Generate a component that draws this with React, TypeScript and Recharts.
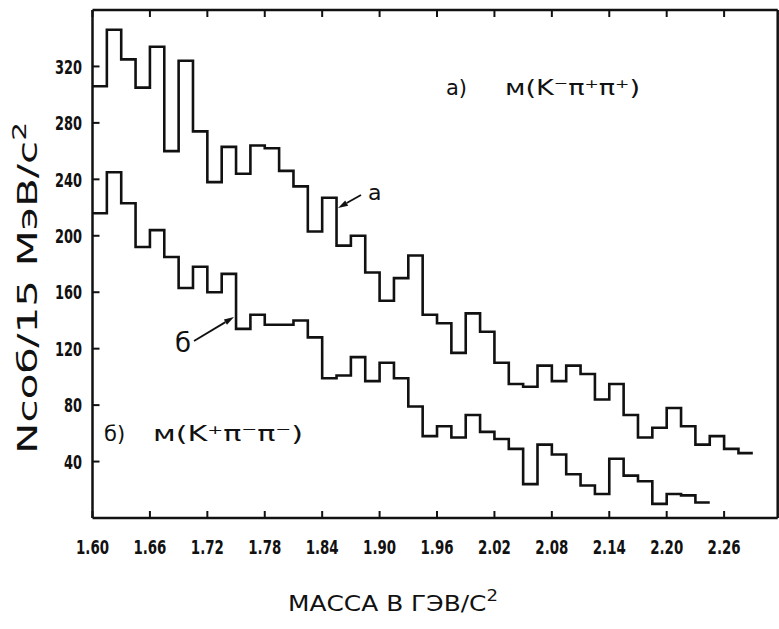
import React from "react";
import { LineChart, Line, XAxis, YAxis } from "recharts";

const BIN_START = 1.6;
const BIN_WIDTH = 0.015;

// (а) M(K- п+ п+), events per 15 MeV bin starting at 1.600
const countsA = [
  306, 346, 325, 305, 334, 260, 324, 274, 238, 263, 244, 264, 262, 246, 235, 203,
  227, 193, 200, 174, 154, 170, 186, 144, 138, 117, 145, 132, 110, 95, 93, 108,
  97, 108, 102, 84, 95, 73, 57, 64, 78, 65, 52, 58, 49, 46,
];
// (б) M(K+ п- п-)
const countsB = [
  216, 245, 223, 192, 204, 185, 163, 178, 160, 173, 134, 144, 137, 137, 140, 128,
  99, 101, 114, 97, 110, 99, 79, 58, 65, 57, 73, 61, 56, 49, 24, 52,
  45, 31, 23, 17, 42, 30, 26, 10, 17, 16, 11,
];

const massTicks = [1.6, 1.66, 1.72, 1.78, 1.84, 1.9, 1.96, 2.02, 2.08, 2.14, 2.2, 2.26];
const countTicks = [40, 80, 120, 160, 200, 240, 280, 320];

// one row per bin edge; the closing edge repeats the last bin so stepAfter draws it
const rows = Array.from({ length: countsA.length + 1 }, (_, i) => ({
  m: Math.round((BIN_START + i * BIN_WIDTH) * 1000) / 1000,
  a: countsA[Math.min(i, countsA.length - 1)],
  b: i <= countsB.length ? countsB[Math.min(i, countsB.length - 1)] : null,
}));

const INK = "#111";
const LABEL_FONT = "DejaVu Sans";
const axisLine = { stroke: INK, strokeWidth: 2.5 };
const tickLine = { stroke: INK, strokeWidth: 2 };

// narrow bold lettering like the stencil numbers on the original
function MassTick(props: any) {
  const { x, y, payload } = props;
  return (
    <text
      x={x}
      y={y}
      dy="0.68em"
      textAnchor="middle"
      fill={INK}
      fontSize={20}
      fontWeight="bold"
      fontFamily="DejaVu Sans Condensed"
      textLength={33}
      lengthAdjust="spacingAndGlyphs"
    >
      {Number(payload.value).toFixed(2)}
    </text>
  );
}

function CountTick(props: any) {
  const { x, y, payload } = props;
  const label = String(payload.value);
  return (
    <text
      x={x}
      y={y}
      dy="0.36em"
      textAnchor="end"
      fill={INK}
      fontSize={20}
      fontWeight="bold"
      fontFamily="DejaVu Sans Condensed"
      textLength={label.length * 9}
      lengthAdjust="spacingAndGlyphs"
    >
      {label}
    </text>
  );
}

function Arrow({ x1, y1, x2, y2 }: { x1: number; y1: number; x2: number; y2: number }) {
  const ang = Math.atan2(y2 - y1, x2 - x1);
  const len = 10;
  const w = 3;
  const bx = x2 - len * Math.cos(ang);
  const by = y2 - len * Math.sin(ang);
  const px = -Math.sin(ang) * w;
  const py = Math.cos(ang) * w;
  return (
    <g>
      <line x1={x1} y1={y1} x2={bx} y2={by} stroke={INK} strokeWidth={1.8} />
      <polygon points={`${x2},${y2} ${bx + px},${by + py} ${bx - px},${by - py}`} fill={INK} />
    </g>
  );
}

export default function App() {
  return (
    <div style={{ position: "absolute", left: 0, top: 0, width: 779, height: 629, background: "#fff" }}>
      <LineChart
        width={779}
        height={629}
        data={rows}
        margin={{ top: 9, right: 0.3, bottom: 81, left: 0 }}
      >
        <XAxis
          dataKey="m"
          type="number"
          domain={[1.6, 2.316]}
          ticks={massTicks}
          interval={0}
          allowDataOverflow
          height={30}
          tickSize={-7}
          tickMargin={29}
          axisLine={axisLine}
          tickLine={tickLine}
          tick={<MassTick />}
        />
        <XAxis
          xAxisId="top"
          orientation="top"
          dataKey="m"
          type="number"
          domain={[1.6, 2.316]}
          ticks={massTicks}
          interval={0}
          allowDataOverflow
          height={1}
          tickSize={-7}
          axisLine={axisLine}
          tickLine={tickLine}
          tickFormatter={() => ""}
        />
        <YAxis
          type="number"
          domain={[0, 360]}
          ticks={countTicks}
          interval={0}
          allowDataOverflow
          width={92.5}
          tickSize={-7}
          tickMargin={17.5}
          axisLine={axisLine}
          tickLine={tickLine}
          tick={<CountTick />}
        />
        <YAxis
          yAxisId="right"
          orientation="right"
          type="number"
          domain={[0, 360]}
          ticks={countTicks}
          interval={0}
          width={1}
          tickSize={-7}
          axisLine={axisLine}
          tickLine={tickLine}
          tickFormatter={() => ""}
        />
        <Line
          dataKey="a"
          type="stepAfter"
          stroke={INK}
          strokeWidth={2.6}
          dot={false}
          activeDot={false}
          isAnimationActive={false}
        />
        <Line
          dataKey="b"
          type="stepAfter"
          stroke={INK}
          strokeWidth={2.6}
          dot={false}
          activeDot={false}
          isAnimationActive={false}
        />
      </LineChart>

      <svg
        width={779}
        height={629}
        style={{ position: "absolute", left: 0, top: 0, pointerEvents: "none" }}
        fontFamily={LABEL_FONT}
        fill={INK}
      >
        <text
          x={37}
          y={288}
          fontSize={27}
          textAnchor="middle"
          transform="rotate(-90 37 288)"
          textLength={332}
          lengthAdjust="spacingAndGlyphs"
        >
          Nсоб/15 МэВ/с<tspan dy={-11} fontSize={19}>2</tspan>
        </text>
        <text x={288} y={611} fontSize={22} textLength={210} lengthAdjust="spacingAndGlyphs">
          МАССА В ГЭВ/С<tspan dy={-10} fontSize={16}>2</tspan>
        </text>

        <text x={446} y={95} fontSize={21}>а)</text>
        <text x={505} y={95} fontSize={21} textLength={135} lengthAdjust="spacingAndGlyphs">м(K⁻π⁺π⁺)</text>
        <text x={104} y={441} fontSize={21}>б)</text>
        <text x={153} y={441} fontSize={21} textLength={150} lengthAdjust="spacingAndGlyphs">м(K⁺π⁻π⁻)</text>

        <text x={368} y={200} fontSize={22}>а</text>
        <Arrow x1={361} y1={195} x2={338} y2={208} />
        <text x={175} y={352} fontSize={26}>б</text>
        <Arrow x1={194} y1={341} x2={234} y2={317} />
      </svg>
    </div>
  );
}
